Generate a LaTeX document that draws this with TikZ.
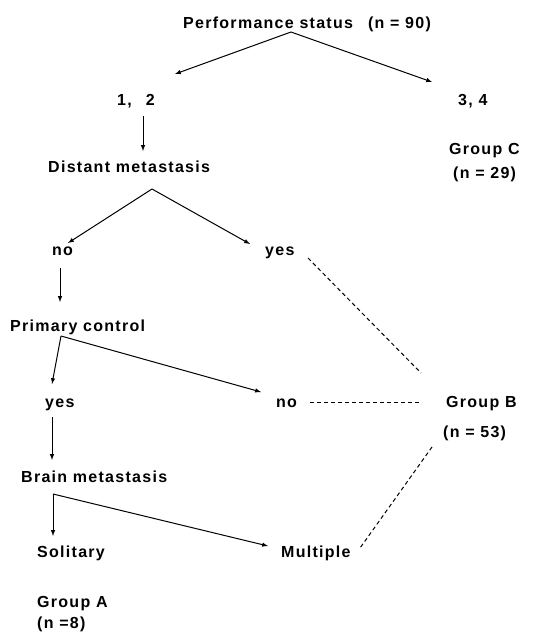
\documentclass[tikz,border=0pt]{standalone}
\usepackage{fontspec}
\setmainfont{Liberation Sans}[LetterSpace=8]
\usepackage{tikz}

\begin{document}
\begin{tikzpicture}[x=1pt, y=-1pt,
    lbl/.style={anchor=base west, inner sep=0pt, font=\bfseries\fontsize{16}{18}\selectfont},
    arr/.style={-latex, line width=1pt},
    dashline/.style={dash pattern=on 4pt off 3pt, line width=1pt}]

    \useasboundingbox (0,0) rectangle (533,635);

    % Define the labels (placed by their left end on the baseline)
    \node[lbl] (perf) at (183,28) {Performance status\hspace{15pt}(n = 90)};
    \node[lbl] (onetwo) at (117,105) {1,\hspace{14pt}2};
    \node[lbl] (threefour) at (458,105) {3, 4};
    \node[lbl] (groupC) at (449,154) {Group C};
    \node[lbl] (nC) at (453,178) {(n = 29)};
    \node[lbl] (distant) at (48,172) {Distant metastasis};
    \node[lbl] (noA) at (52,255) {no};
    \node[lbl] (yesA) at (265,255) {yes};
    \node[lbl] (primary) at (10,331) {Primary control};
    \node[lbl] (yesB) at (45,407) {yes};
    \node[lbl] (noB) at (276,407) {no};
    \node[lbl] (groupB) at (446,407) {Group B};
    \node[lbl] (nB) at (443,437) {(n = 53)};
    \node[lbl] (brain) at (21,482) {Brain metastasis};
    \node[lbl] (solitary) at (37,557) {Solitary};
    \node[lbl] (multiple) at (281,557) {Multiple};
    \node[lbl] (groupA) at (37,607) {Group A};
    \node[lbl] (nA) at (37,628) {(n =8)};

    % Define the split points
    \coordinate (perfsplit) at (291,32);
    \coordinate (distsplit) at (152,189);
    \coordinate (primsplit) at (61,336);
    \coordinate (brainsplit) at (53,494);

    % Draw the arrows of the tree
    \draw[arr] (perfsplit) -- ([shift={(58,-31)}]onetwo.base west);
    \draw[arr] (perfsplit) -- ([shift={(-26,-23)}]threefour.base west);
    \draw[arr] ([shift={(26,11)}]onetwo.base west) -- ([shift={(95,-21)}]distant.base west);
    \draw[arr] (distsplit) -- ([shift={(16,-12)}]noA.base west);
    \draw[arr] (distsplit) -- ([shift={(-15,-11)}]yesA.base west);
    \draw[arr] ([shift={(8,13)}]noA.base west) -- ([shift={(50,-29)}]primary.base west);
    \draw[arr] (primsplit) -- ([shift={(7,-23)}]yesB.base west);
    \draw[arr] (primsplit) -- ([shift={(-15,-15)}]noB.base west);
    \draw[arr] ([shift={(7,10)}]yesB.base west) -- ([shift={(31,-22)}]brain.base west);
    \draw[arr] (brainsplit) -- ([shift={(16,-21)}]solitary.base west);
    \draw[arr] (brainsplit) -- ([shift={(-13,-11)}]multiple.base west);

    % Draw the dashed links to group B
    \draw[dashline] ([shift={(43,3)}]yesA.base west) -- ([shift={(-25,-34)}]groupB.base west);
    \draw[dashline] ([shift={(34,-5)}]noB.base west) -- ([shift={(-26,-5)}]groupB.base west);
    \draw[dashline] ([shift={(-11,10)}]nB.base west) -- ([shift={(79,-9)}]multiple.base west);
\end{tikzpicture}
\end{document}
